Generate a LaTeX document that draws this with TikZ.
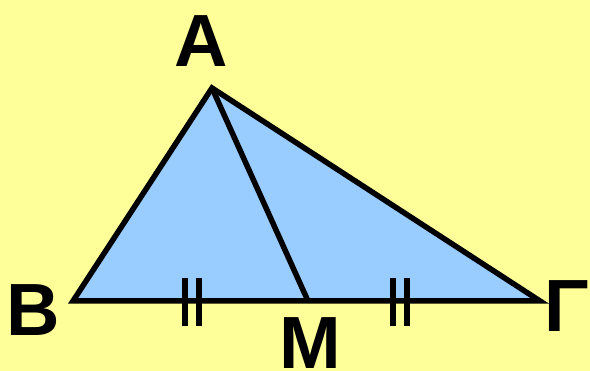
\documentclass[tikz,border=0pt]{standalone}
\usepackage{fontspec}
\setmainfont{Liberation Sans}
\usetikzlibrary{calc}
\definecolor{bgyellow}{HTML}{FFFF99}
\definecolor{triblue}{HTML}{99CCFF}

\begin{document}
\begin{tikzpicture}[x=1pt, y=1pt,
    edge/.style={draw=black, line width=5.5pt, line join=miter},
    tick/.style={draw=black, line width=5.5pt},
    vlabel/.style={inner sep=0pt, anchor=base, font=\fontsize{74}{80}\selectfont\bfseries}
]
    \fill[bgyellow] (0,0) rectangle (590,371);
    \useasboundingbox (0,0) rectangle (590,371);

    \coordinate (A) at (212,283);
    \coordinate (B) at (73,70);
    \coordinate (G) at (540,70);
    \coordinate (M) at (308,70);

    \fill[triblue] (A) -- (B) -- (G) -- cycle;
    \draw[edge] (A) -- (B) -- (G) -- cycle;
    \draw[edge] (A) -- (M);

    % equal segments
    \coordinate (t1) at ($(B)!0.506!(M)$);
    \coordinate (t2) at ($(M)!0.397!(G)$);
    \foreach \t in {t1, t2} {
        \draw[tick] ([xshift=-7pt, yshift=-25pt]\t) -- ([xshift=-7pt, yshift=23pt]\t);
        \draw[tick] ([xshift=7pt, yshift=-25pt]\t) -- ([xshift=7pt, yshift=23pt]\t);
    }

    \node[vlabel] (lA) at (201,304) {A};
    \node[vlabel] (lB) at (33,35) {B};
    \node[vlabel] (lM) at (310,2) {M};
    \node[vlabel] (lG) at (567,39) {Γ};
\end{tikzpicture}
\end{document}
